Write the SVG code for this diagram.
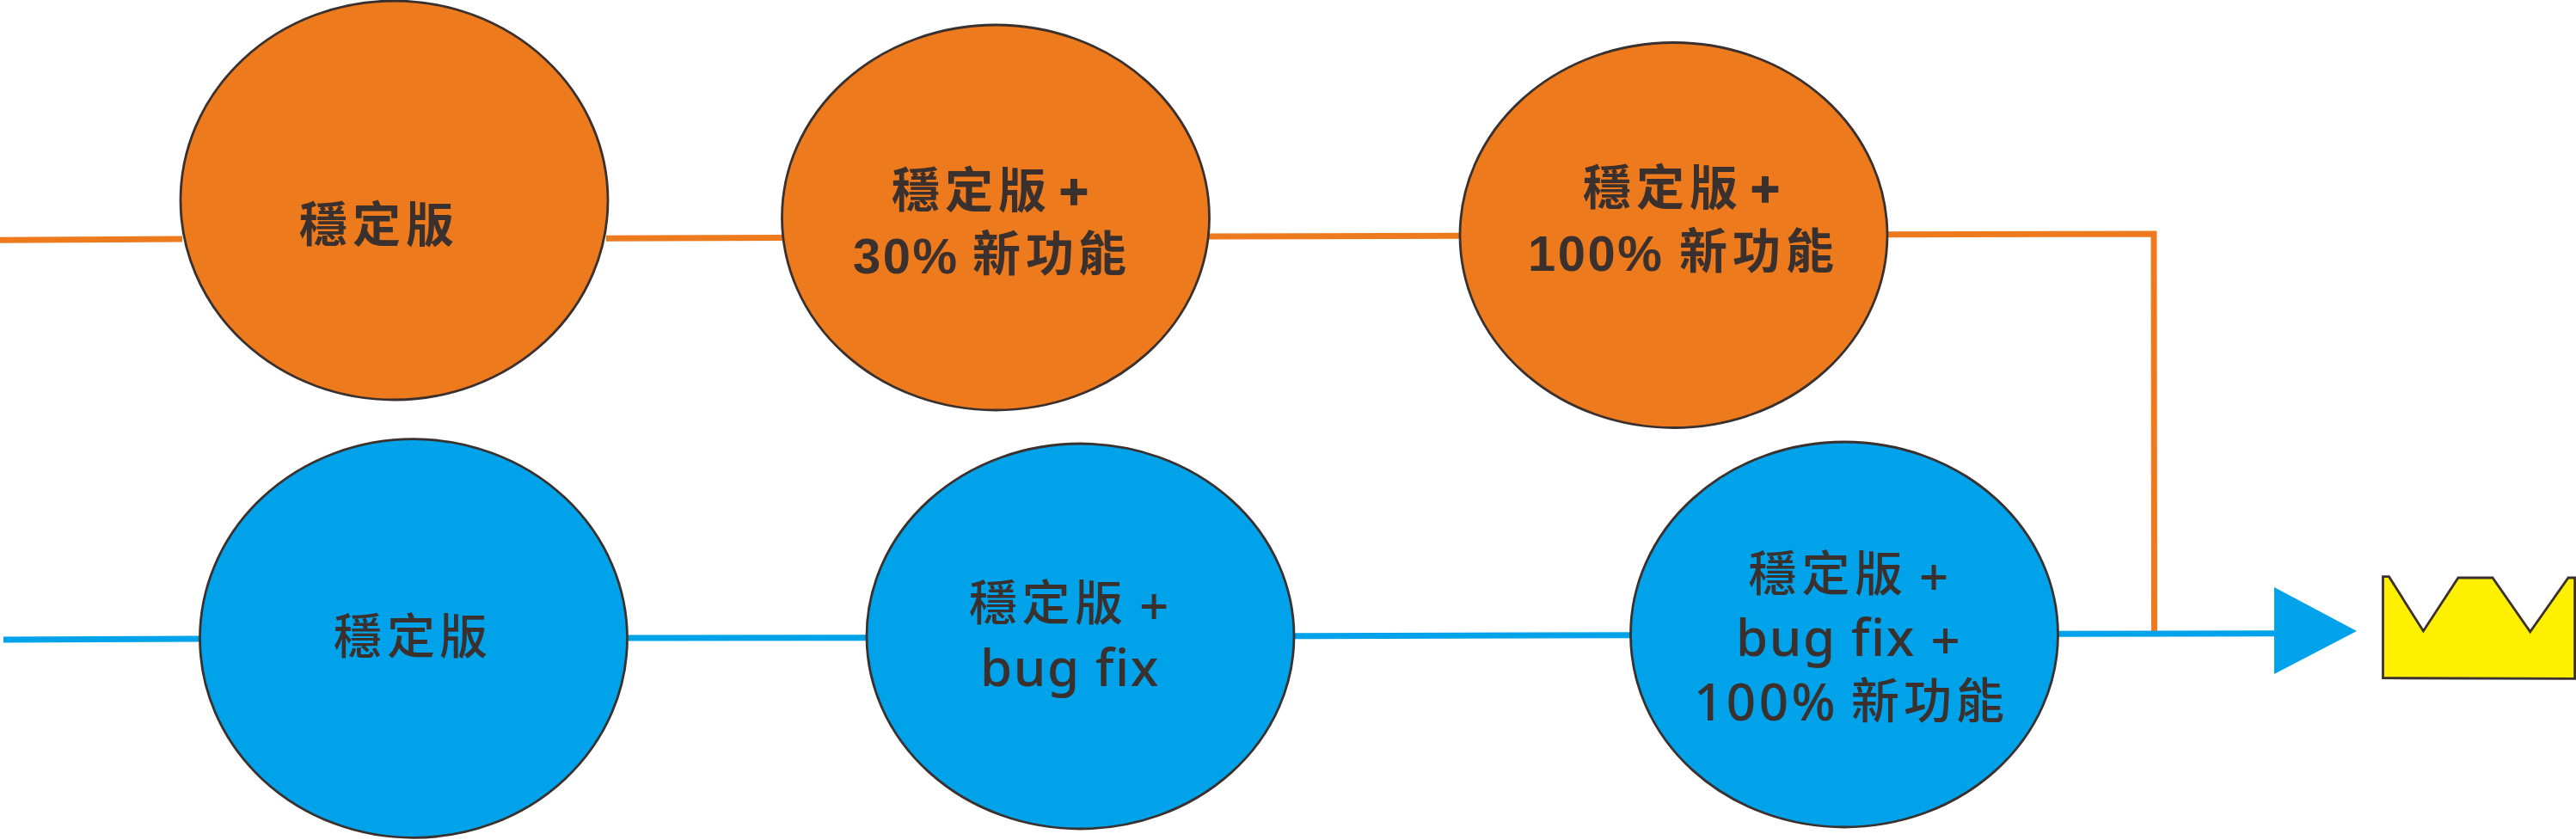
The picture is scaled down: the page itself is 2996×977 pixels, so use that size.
<svg xmlns="http://www.w3.org/2000/svg" width="2996" height="977" viewBox="0 0 2996 977">
<style>
.o{fill:#ee7a1e;stroke:#3a302e;stroke-width:2.8}
.b{fill:#00a2e9;stroke:#3a302e;stroke-width:2.8}
.co{fill:none;stroke:#ee7a1e;stroke-width:7}
.cb{fill:none;stroke:#00a2e9;stroke-width:7}
text{fill:#3a302e;font-family:"Noto Sans CJK TC","Noto Sans",sans-serif}
.c{font-family:"Noto Sans CJK TC",sans-serif;font-size:56px}
.h .c{font-weight:700}
.r .c{font-weight:500}
.l{font-size:58px;letter-spacing:2.5px;font-weight:700;font-family:"Liberation Sans",sans-serif}
.p{stroke:#3a302e;stroke-width:1.5px}
.n{font-size:60px;letter-spacing:1.6px;font-weight:500;font-family:"Noto Sans",sans-serif}
</style>
<rect width="2996" height="977" fill="#fff"/>
<g id="connectors">
<path class="co" d="M0 279.3L212 278"/>
<path class="co" d="M705 277.3L912 276.5"/>
<path class="co" d="M1404 275L1700 274.3"/>
<path class="co" d="M2193 272.7L2505 272L2505.5 735"/>
<path class="cb" d="M4 744L234 743"/>
<path class="cb" d="M728 742L1010 741.7"/>
<path class="cb" d="M1503 739.7L1900 738.7"/>
<path class="cb" d="M2392 737.3L2650 736.8"/>
<polygon points="2645,683 2741,734 2645,784" fill="#00a2e9"/>
</g>
<g id="n1"><ellipse class="o" cx="458.5" cy="233" rx="248.5" ry="232"/><text class="h"><tspan class="c" x="348 410 472" y="281">穩定版</tspan></text></g>
<g id="n2"><ellipse class="o" cx="1158" cy="253" rx="248.5" ry="224"/>
<text class="h"><tspan class="c" x="1037 1099 1161" y="241">穩定版</tspan> <tspan class="l p" x="1232" y="243">+</tspan></text>
<text class="h"><tspan class="l" x="992" y="318">30%</tspan> <tspan class="c" x="1131 1193 1254" y="315">新功能</tspan></text></g>
<g id="n3"><ellipse class="o" cx="1946.5" cy="273.5" rx="248.5" ry="224"/>
<text class="h"><tspan class="c" x="1841 1903 1965" y="238">穩定版</tspan> <tspan class="l p" x="2036" y="240">+</tspan></text>
<text class="h"><tspan class="l" x="1777" y="315">100%</tspan> <tspan class="c" x="1953 2015 2077" y="312">新功能</tspan></text></g>
<g id="n4"><ellipse class="b" cx="481" cy="742.5" rx="248.5" ry="231.8"/><text class="r"><tspan class="c" x="388 450 511" y="760">穩定版</tspan></text></g>
<g id="n5"><ellipse class="b" cx="1256.5" cy="740" rx="248.5" ry="224"/>
<text class="r"><tspan class="c" x="1127 1188.5 1250" y="721">穩定版</tspan> <tspan class="n" x="1325" y="727">+</tspan></text>
<text class="r"><tspan class="n" x="1140" y="798">bug fix</tspan></text></g>
<g id="n6"><ellipse class="b" cx="2145" cy="738" rx="248.5" ry="224"/>
<text class="r"><tspan class="c" x="2033.5 2095.5 2157" y="686.5">穩定版</tspan> <tspan class="n" x="2232" y="692.5">+</tspan></text>
<text class="r"><tspan class="n" x="2019" y="763.3">bug fix</tspan> <tspan class="n" x="2245.5" y="767">+</tspan></text>
<text class="r"><tspan class="n" style="letter-spacing:3.5px" x="1970" y="837.7">100%</tspan> <tspan class="c" x="2153 2214 2275" y="834.7">新功能</tspan></text></g>
<g id="crown"><polygon points="2771.5,670.7 2778.5,670.7 2818.4,734 2859,672 2899,672 2942.7,734.7 2987,672 2994.6,672 2994.6,789.3 2771.5,788.7" fill="#fff000" stroke="#3a302e" stroke-width="2.8"/></g>
</svg>
